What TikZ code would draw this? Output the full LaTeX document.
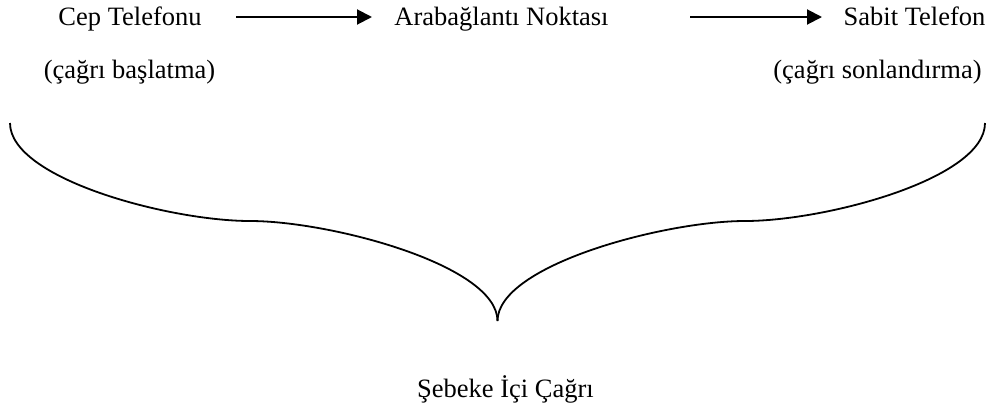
\documentclass[tikz,border=0pt]{standalone}
\usepackage{fontspec}
\setmainfont{Liberation Serif}
\usetikzlibrary{arrows.meta}
\begin{document}
\begin{tikzpicture}[x=1pt,y=-1pt,
  lbl/.style={anchor=base,inner sep=0pt,font=\fontsize{26.5}{31}\selectfont},
  flow/.style={line width=2pt,-{Triangle[length=15pt,width=15pt]}},
  bracepath/.style={line width=1.8pt,line join=round}]
\useasboundingbox (0,0) rectangle (995,410);
\node[lbl] (cep) at (130,25) {Cep Telefonu};
\node[lbl] (ara) at (501.5,25) {Arabağlantı Noktası};
\node[lbl] (sab) at (914.5,25) {Sabit Telefon};
\node[lbl] (bas) at (129.5,78) {(çağrı başlatma)};
\node[lbl] (son) at (877.5,78) {(çağrı sonlandırma)};
\node[lbl] (seb) at (505.5,397) {Şebeke İçi Çağrı};
\coordinate (a1s) at (236,17);
\coordinate (a1e) at (372,17);
\coordinate (a2s) at (690,17);
\coordinate (a2e) at (822,17);
\draw[flow] (a1s) -- (a1e);
\draw[flow] (a2s) -- (a2e);
\coordinate (bl) at (10,123);
\coordinate (br) at (985,123);
\coordinate (bc) at (497.5,321);
\draw[bracepath] (bl) .. controls (10,179) and (170,221) .. (250,221)
  .. controls (330,221) and (497.5,265) .. (bc);
\draw[bracepath] (br) .. controls (985,179) and (825,221) .. (745,221)
  .. controls (665,221) and (497.5,265) .. (bc);
\end{tikzpicture}
\end{document}
